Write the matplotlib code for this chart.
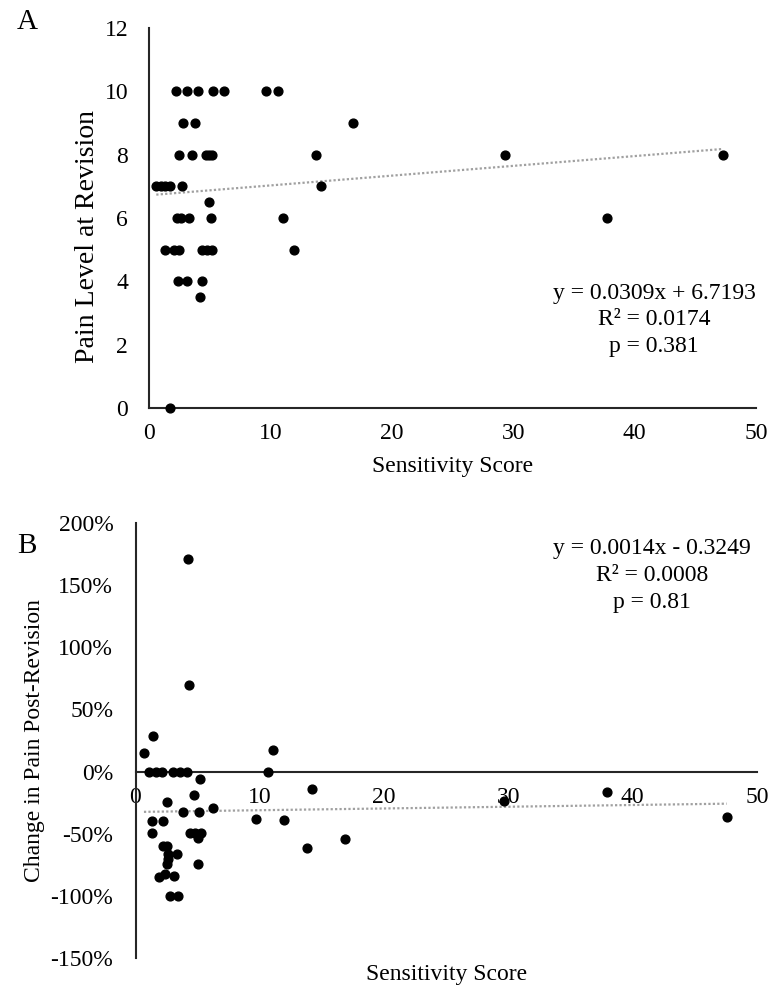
import numpy as np
import matplotlib
matplotlib.use("Agg")
import matplotlib.pyplot as plt
from matplotlib.ticker import PercentFormatter

plt.rcParams['font.family'] = ['Liberation Serif', 'DejaVu Serif']
plt.rcParams['axes.unicode_minus'] = False

# panel A: sensitivity score vs pain level at revision
sens_a = [2.22, 3.10, 4.06, 5.24, 6.18, 9.64, 10.65,
          2.77, 3.79, 16.83,
          2.50, 3.57, 4.67, 4.94, 5.21, 13.73, 29.3, 47.3,
          0.6, 0.95, 1.3, 1.7, 2.69, 14.14,
          4.97,
          2.33, 2.61, 3.32, 5.08, 11.07, 37.7,
          1.32, 2.06, 2.50, 4.34, 4.75, 5.16, 11.94,
          2.42, 3.10, 4.39,
          4.2,
          1.73]
pain_a = [10, 10, 10, 10, 10, 10, 10,
          9, 9, 9,
          8, 8, 8, 8, 8, 8, 8, 8,
          7, 7, 7, 7, 7, 7,
          6.5,
          6, 6, 6, 6, 6, 6,
          5, 5, 5, 5, 5, 5, 5,
          4, 4, 4,
          3.5,
          0]
fit_a = (0.0309, 6.7193)
stats_a = ["y = 0.0309x + 6.7193", "R² = 0.0174", "p = 0.381"]

# panel B: sensitivity score vs change in pain post-revision
sens_b = [4.2, 4.3, 1.38, 0.68, 11.09,
          1.11, 1.65, 2.11, 3.04, 3.58, 4.12, 10.68,
          5.19, 4.71, 2.51, 14.2, 6.21, 3.80, 5.11,
          1.30, 2.19, 9.69, 11.97,
          1.30, 4.38, 4.79, 5.27, 5.0,
          2.24, 2.51, 2.59, 3.31, 2.64, 2.51, 5.0,
          1.86, 2.40, 3.12, 2.78, 3.44,
          13.82, 16.85, 37.96, 29.63, 47.56]
change_b = [1.71, 0.70, 0.287, 0.146, 0.17,
            0, 0, 0, 0, 0, 0, 0,
            -0.06, -0.186, -0.242, -0.14, -0.293, -0.328, -0.328,
            -0.395, -0.395, -0.38, -0.39,
            -0.494, -0.494, -0.494, -0.494, -0.534,
            -0.595, -0.595, -0.662, -0.662, -0.702, -0.745, -0.745,
            -0.849, -0.828, -0.844, -1.0, -1.0,
            -0.616, -0.54, -0.162, -0.234, -0.368]
fit_b = (0.0014, -0.3249)
stats_b = ["y = 0.0014x - 0.3249", "R² = 0.0008", "p = 0.81"]

fs = 17
spine_c = '#262626'
trend_c = '#a0a0a0'

fig = plt.figure(figsize=(7.69, 9.9), dpi=100)

# ---- A ----
ax1 = fig.add_axes([149 / 769, 1 - 408 / 990, 607 / 769, 380 / 990])
ax1.scatter(sens_a, pain_a, s=40, color='black', zorder=3, clip_on=False)
xs = np.linspace(min(sens_a), max(sens_a), 50)
ax1.plot(xs, fit_a[0] * xs + fit_a[1], color=trend_c, lw=1.6, ls=(0, (1, 1)))
ax1.set_xlim(0, 50)
ax1.set_ylim(0, 12)
ax1.set_xticks(range(0, 51, 10))
ax1.set_yticks(range(0, 13, 2))
ax1.tick_params(length=0, labelsize=fs)
ax1.tick_params(axis='y', pad=15)
ax1.tick_params(axis='x', pad=11)
for s in ['top', 'right']:
    ax1.spines[s].set_visible(False)
for s in ['left', 'bottom']:
    ax1.spines[s].set_linewidth(1.5)
    ax1.spines[s].set_color(spine_c)
ax1.set_ylabel('Pain Level at Revision', fontsize=20, va='center')
ax1.yaxis.set_label_coords(-0.1005, 0.4526)
ax1.set_xlabel('Sensitivity Score', fontsize=fs, va='center')
ax1.xaxis.set_label_coords(0.5, -0.153)
for i, t in enumerate(stats_a):
    ax1.text(0.832, 0.3026 - i * 0.071, t, transform=ax1.transAxes,
             ha='center', va='center', fontsize=fs)
fig.text(27 / 769, 1 - 22 / 990, 'A', fontsize=21, ha='center', va='center')

# ---- B ----
ax2 = fig.add_axes([135.5 / 769, 1 - 958 / 990, 621.5 / 769, 435 / 990])
ax2.scatter(sens_b, change_b, s=40, color='black', zorder=3, clip_on=False)
xs = np.linspace(min(sens_b), max(sens_b), 50)
ax2.plot(xs, fit_b[0] * xs + fit_b[1], color=trend_c, lw=1.6, ls=(0, (1, 1)))
ax2.set_xlim(0, 50)
ax2.set_ylim(-1.5, 2.0)
ax2.set_xticks(range(0, 51, 10))
ax2.set_yticks(np.arange(-1.5, 2.01, 0.5))
ax2.yaxis.set_major_formatter(PercentFormatter(xmax=1, decimals=0))
ax2.tick_params(length=0, labelsize=fs)
ax2.tick_params(axis='y', pad=16)
ax2.tick_params(axis='x', pad=11)
ax2.spines['bottom'].set_position(('data', 0))
for s in ['top', 'right']:
    ax2.spines[s].set_visible(False)
for s in ['left', 'bottom']:
    ax2.spines[s].set_linewidth(1.5)
    ax2.spines[s].set_color(spine_c)
ax2.set_ylabel('Change in Pain Post-Revision', fontsize=fs, va='center')
ax2.yaxis.set_label_coords(-0.163, 0.5)
ax2.set_xlabel('Sensitivity Score', fontsize=fs, va='center')
ax2.xaxis.set_label_coords(0.5007, -0.039)
for i, t in enumerate(stats_b):
    ax2.text(0.831, 0.9425 - i * 0.0632, t, transform=ax2.transAxes,
             ha='center', va='center', fontsize=fs)
fig.text(27 / 769, 1 - 546 / 990, 'B', fontsize=21, ha='center', va='center')

fig.savefig('out.png', dpi=100)
